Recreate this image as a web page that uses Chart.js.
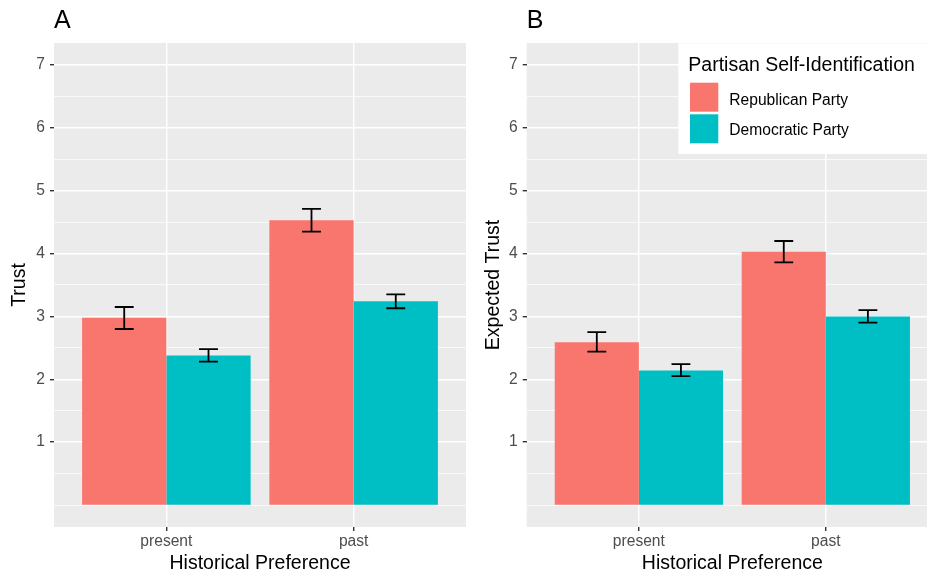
<!DOCTYPE html>
<html>
<head>
<meta charset="utf-8">
<title>Trust by Historical Preference</title>
<script src="https://cdn.jsdelivr.net/npm/chart.js@4/dist/chart.umd.min.js"></script>
<style>
  html, body { margin: 0; padding: 0; background: #ffffff; overflow: hidden; width: 927px; height: 573px; }
  #wrap { position: relative; width: 927px; height: 573px; overflow: hidden; }
  .panel { position: absolute; top: 0; width: 470px; height: 573px; }
  #panelA { left: 0; }
  #panelB { left: 470px; }
</style>
</head>
<body>
<div id="wrap">
  <div class="panel" id="panelA"><canvas id="chartA" width="470" height="573"></canvas></div>
  <div class="panel" id="panelB"><canvas id="chartB" width="470" height="573"></canvas></div>
</div>
<script>
// Categories, groups and tick labels
const categories = ['present', 'past'];
const partyLabels = ['Republican Party', 'Democratic Party'];
const partyColors = ['#F8766D', '#00BFC4'];
const yTickLabels = ['1', '2', '3', '4', '5', '6', '7'];

// Panel A: Trust (mean with error-bar bounds)
const trustRep      = [2.98, 4.53];
const trustRepLow   = [2.80, 4.35];
const trustRepHigh  = [3.15, 4.71];
const trustDem      = [2.38, 3.24];
const trustDemLow   = [2.28, 3.13];
const trustDemHigh  = [2.48, 3.35];

// Panel B: Expected Trust (mean with error-bar bounds)
const expRep      = [2.59, 4.03];
const expRepLow   = [2.44, 3.86];
const expRepHigh  = [2.75, 4.20];
const expDem      = [2.14, 3.00];
const expDemLow   = [2.05, 2.90];
const expDemHigh  = [2.24, 3.10];

const FONT = "'Liberation Sans', Arial, Helvetica, sans-serif";
const isMajor = v => Number.isInteger(v) && v >= 1 && v <= 7;

// grey panel background behind the grid
const panelBackground = {
  id: 'panelBackground',
  beforeDraw(chart) {
    const {ctx, chartArea: a} = chart;
    ctx.save();
    ctx.fillStyle = '#EBEBEB';
    ctx.fillRect(a.left, a.top, a.right - a.left, a.bottom - a.top);
    ctx.restore();
  }
};

// error bars with whiskers, placed on each bar
const errorBars = {
  id: 'errorBars',
  afterDatasetsDraw(chart) {
    const {ctx} = chart;
    const yScale = chart.scales.y;
    ctx.save();
    ctx.strokeStyle = '#000000';
    ctx.lineWidth = 1.8;
    chart.data.datasets.forEach((ds, i) => {
      const meta = chart.getDatasetMeta(i);
      meta.data.forEach((bar, j) => {
        const x = bar.x;
        const half = bar.width * 0.112;
        const yLo = yScale.getPixelForValue(ds.errLow[j]);
        const yHi = yScale.getPixelForValue(ds.errHigh[j]);
        ctx.beginPath();
        ctx.moveTo(x, yLo); ctx.lineTo(x, yHi);
        ctx.moveTo(x - half, yLo); ctx.lineTo(x + half, yLo);
        ctx.moveTo(x - half, yHi); ctx.lineTo(x + half, yHi);
        ctx.stroke();
      });
    });
    ctx.restore();
  }
};

// panel tag letter at top left
const panelTag = {
  id: 'panelTag',
  afterDraw(chart, args, opts) {
    const {ctx, chartArea: a} = chart;
    ctx.save();
    ctx.fillStyle = '#000000';
    ctx.font = '25px ' + FONT;
    ctx.textAlign = 'left';
    ctx.textBaseline = 'alphabetic';
    ctx.fillText(opts.text, a.left, 28);
    ctx.restore();
  }
};

// fill legend drawn inside the panel
const fillLegend = {
  id: 'fillLegend',
  afterDraw(chart, args, opts) {
    if (!opts.show) return;
    const {ctx} = chart;
    const x0 = opts.x;
    ctx.save();
    ctx.fillStyle = '#FFFFFF';
    ctx.fillRect(x0, 43.3, chart.width - x0, 110.7);
    ctx.fillStyle = '#000000';
    ctx.font = '19.5px ' + FONT;
    ctx.textBaseline = 'alphabetic';
    ctx.textAlign = 'left';
    ctx.fillText(opts.title, x0 + 10, 70.5);
    const keyTops = [82.7, 114.3];
    const baselines = [104.5, 134.5];
    chart.data.datasets.forEach((ds, i) => {
      ctx.fillStyle = ds.backgroundColor;
      ctx.fillRect(x0 + 11.7, keyTops[i], 28.3, 29);
      ctx.fillStyle = '#000000';
      ctx.font = '15.6px ' + FONT;
      ctx.fillText(ds.label, x0 + 51, baselines[i]);
    });
    ctx.restore();
  }
};

function makePanel(canvasId, tag, yTitle, series, lows, highs, geo) {
  const datasets = series.map((vals, i) => ({
    label: partyLabels[i],
    data: vals.map((v, j) => ({x: j + 1, y: v})),
    backgroundColor: partyColors[i],
    borderWidth: 0,
    categoryPercentage: 0.9,
    barPercentage: 1.0,
    errLow: lows[i],
    errHigh: highs[i]
  }));

  return new Chart(document.getElementById(canvasId), {
    type: 'bar',
    data: {datasets},
    options: {
      responsive: false,
      animation: false,
      events: [],
      layout: {padding: {top: 43, right: geo.right, left: 0, bottom: 0}},
      plugins: {
        legend: {display: false},
        tooltip: {enabled: false},
        title: {display: false},
        panelTag: {text: tag},
        fillLegend: geo.legend
      },
      scales: {
        x: {
          type: 'linear',
          min: 0.4,
          max: 2.6,
          offset: false,
          afterBuildTicks: s => { s.ticks = categories.map((c, i) => ({value: i + 1})); },
          afterFit: s => { s.height = 46; },
          ticks: {
            callback: v => categories[Math.round(v) - 1],
            color: '#4D4D4D',
            font: {family: FONT, size: 15.6},
            padding: 1,
            autoSkip: false,
            maxRotation: 0
          },
          grid: {
            color: '#FFFFFF',
            lineWidth: 1.4,
            offset: false,
            drawTicks: true,
            tickLength: 4,
            tickWidth: 1.4,
            tickColor: '#333333'
          },
          border: {display: false},
          title: {
            display: true,
            text: 'Historical Preference',
            color: '#000000',
            font: {family: FONT, size: 19.5, lineHeight: 1},
            padding: {top: 0, bottom: 0}
          }
        },
        y: {
          type: 'linear',
          min: -0.35,
          max: 7.35,
          afterBuildTicks: s => {
            const t = [];
            for (let v = 0; v <= 7; v += 0.5) t.push({value: v});
            s.ticks = t;
          },
          afterFit: s => { s.width = geo.yWidth; },
          ticks: {
            callback: v => isMajor(v) ? yTickLabels[v - 1] : '',
            color: '#4D4D4D',
            font: {family: FONT, size: 15.6},
            padding: 5,
            autoSkip: false
          },
          grid: {
            color: '#FFFFFF',
            lineWidth: ctx => isMajor(ctx.tick.value) ? 1.4 : 0.7,
            drawTicks: true,
            tickLength: 4,
            tickWidth: 1.4,
            tickColor: ctx => isMajor(ctx.tick.value) ? '#333333' : 'rgba(0,0,0,0)'
          },
          border: {display: false},
          title: {
            display: true,
            text: yTitle,
            color: '#000000',
            font: {family: FONT, size: 19.5, lineHeight: 1},
            padding: {top: geo.titlePad, bottom: 0}
          }
        }
      }
    },
    plugins: [panelBackground, errorBars, panelTag, fillLegend]
  });
}

makePanel('chartA', 'A', 'Trust',
  [trustRep, trustDem], [trustRepLow, trustDemLow], [trustRepHigh, trustDemHigh],
  {right: 4, yWidth: 54, titlePad: 10, legend: {show: false}});

makePanel('chartB', 'B', 'Expected Trust',
  [expRep, expDem], [expRepLow, expDemLow], [expRepHigh, expDemHigh],
  {right: 2, yWidth: 56.7, titlePad: 13.5,
   legend: {show: true, x: 208.3, title: 'Partisan Self-Identification'}});
</script>
</body>
</html>
